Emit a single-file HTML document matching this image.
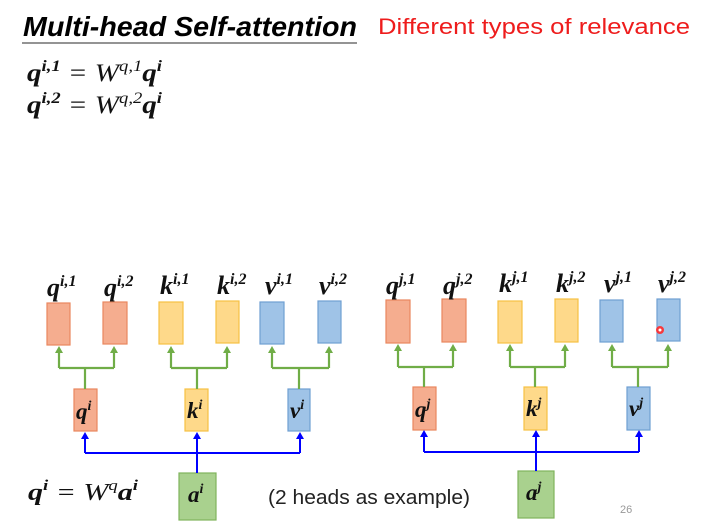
<!DOCTYPE html>
<html><head><meta charset="utf-8"><style>
html,body{margin:0;padding:0;background:#fff;}
svg{display:block;}
.m{font-family:"Liberation Serif",serif;font-weight:bold;font-style:italic;fill:#111;}
.s{font-family:"Liberation Sans",sans-serif;}
</style></head><body>
<svg width="707" height="527" viewBox="0 0 707 527" xmlns="http://www.w3.org/2000/svg">
<rect width="707" height="527" fill="#fff"/>
<text x="23" y="36" class="s" font-size="28" font-weight="bold" font-style="italic" fill="#000" textLength="334" lengthAdjust="spacingAndGlyphs">Multi-head Self-attention</text>
<line x1="22" y1="43" x2="357" y2="43" stroke="#555" stroke-width="1.2"/>
<text x="378" y="34" class="s" font-size="22" fill="#ee1c1c" textLength="312" lengthAdjust="spacingAndGlyphs">Different types of relevance</text>
<text x="27" y="81" class="m" font-size="25" textLength="135" lengthAdjust="spacingAndGlyphs">q<tspan font-size="16" dy="-10">i,1</tspan><tspan dy="10" font-weight="normal"> = W</tspan><tspan font-size="16" dy="-10" font-weight="normal">q,1</tspan><tspan dy="10">q</tspan><tspan font-size="16" dy="-10">i</tspan></text>
<text x="27" y="113" class="m" font-size="25" textLength="135" lengthAdjust="spacingAndGlyphs">q<tspan font-size="16" dy="-10">i,2</tspan><tspan dy="10" font-weight="normal"> = W</tspan><tspan font-size="16" dy="-10" font-weight="normal">q,2</tspan><tspan dy="10">q</tspan><tspan font-size="16" dy="-10">i</tspan></text>
<text x="28" y="500" class="m" font-size="24" textLength="110" lengthAdjust="spacingAndGlyphs">q<tspan font-size="15" dy="-10">i</tspan><tspan dy="10" font-weight="normal"> = W</tspan><tspan font-size="15" dy="-10" font-weight="normal">q</tspan><tspan dy="10">a</tspan><tspan font-size="15" dy="-10">i</tspan></text>
<text x="268" y="504" class="s" font-size="20" fill="#222" textLength="202" lengthAdjust="spacingAndGlyphs">(2 heads as example)</text>
<text x="620" y="513" class="s" font-size="11" fill="#999">26</text>

<g stroke-width="1.2">
<rect x="47" y="303" width="23" height="42" fill="#f5ad8f" stroke="#e9875e"/>
<rect x="103" y="302" width="24" height="42" fill="#f5ad8f" stroke="#e9875e"/>
<rect x="159" y="302" width="24" height="42" fill="#fed98a" stroke="#f6c143"/>
<rect x="216" y="301" width="23" height="42" fill="#fed98a" stroke="#f6c143"/>
<rect x="260" y="302" width="24" height="42" fill="#9fc3e7" stroke="#6f9fd2"/>
<rect x="318" y="301" width="23" height="42" fill="#9fc3e7" stroke="#6f9fd2"/>
<rect x="74" y="389" width="23" height="42" fill="#f5ad8f" stroke="#e9875e"/>
<rect x="185" y="389" width="23" height="42" fill="#fed98a" stroke="#f6c143"/>
<rect x="288" y="389" width="22" height="42" fill="#9fc3e7" stroke="#6f9fd2"/>
<rect x="179" y="473" width="37" height="47" fill="#a9d18e" stroke="#80b35c"/>
<rect x="386" y="300" width="24" height="43" fill="#f5ad8f" stroke="#e9875e"/>
<rect x="442" y="299" width="24" height="43" fill="#f5ad8f" stroke="#e9875e"/>
<rect x="498" y="301" width="24" height="42" fill="#fed98a" stroke="#f6c143"/>
<rect x="555" y="299" width="23" height="43" fill="#fed98a" stroke="#f6c143"/>
<rect x="600" y="300" width="23" height="42" fill="#9fc3e7" stroke="#6f9fd2"/>
<rect x="657" y="299" width="23" height="42" fill="#9fc3e7" stroke="#6f9fd2"/>
<rect x="413" y="387" width="23" height="43" fill="#f5ad8f" stroke="#e9875e"/>
<rect x="524" y="387" width="23" height="43" fill="#fed98a" stroke="#f6c143"/>
<rect x="627" y="387" width="23" height="43" fill="#9fc3e7" stroke="#6f9fd2"/>
<rect x="518" y="471" width="36" height="47" fill="#a9d18e" stroke="#80b35c"/>
</g>

<g stroke="#70ad47" stroke-width="2.2" fill="none">
<path d="M85,389 V368 M59,368 H114 M59,368 V352 M114,368 V352" />
<path d="M197,389 V368 M171,368 H227 M171,368 V352 M227,368 V352"/>
<path d="M299,389 V368 M272,368 H329 M272,368 V352 M329,368 V352"/>
<path d="M424,387 V367 M398,367 H453 M398,367 V350 M453,367 V350"/>
<path d="M535,387 V367 M510,367 H565 M510,367 V350 M565,367 V350"/>
<path d="M638,387 V367 M612,367 H668 M612,367 V350 M668,367 V350"/>
</g>
<g fill="#70ad47">
<path d="M59,346 l-4,7 h8z M114,346 l-4,7 h8z M171,346 l-4,7 h8z M227,346 l-4,7 h8z M272,346 l-4,7 h8z M329,346 l-4,7 h8z"/>
<path d="M398,344 l-4,7 h8z M453,344 l-4,7 h8z M510,344 l-4,7 h8z M565,344 l-4,7 h8z M612,344 l-4,7 h8z M668,344 l-4,7 h8z"/>
</g>
<g stroke="#0000ff" stroke-width="2" fill="none">
<path d="M197,473 V437 M85,453 H300 M85,453 V437 M300,453 V437"/>
<path d="M536,471 V435 M424,452 H639 M424,452 V435 M639,452 V435"/>
</g>
<g fill="#0000ff">
<path d="M85,432 l-4,7 h8z M197,432 l-4,7 h8z M300,432 l-4,7 h8z"/>
<path d="M424,430 l-4,7 h8z M536,430 l-4,7 h8z M639,430 l-4,7 h8z"/>
</g>

<g class="m" font-size="26">
<text x="47" y="296">q<tspan font-size="16" dy="-10">i,1</tspan></text>
<text x="104" y="296">q<tspan font-size="16" dy="-10">i,2</tspan></text>
<text x="160" y="294">k<tspan font-size="16" dy="-10">i,1</tspan></text>
<text x="217" y="294">k<tspan font-size="16" dy="-10">i,2</tspan></text>
<text x="265" y="294">v<tspan font-size="16" dy="-10">i,1</tspan></text>
<text x="319" y="294">v<tspan font-size="16" dy="-10">i,2</tspan></text>
<text x="386" y="294">q<tspan font-size="16" dy="-10">j,1</tspan></text>
<text x="443" y="294">q<tspan font-size="16" dy="-10">j,2</tspan></text>
<text x="499" y="292">k<tspan font-size="16" dy="-10">j,1</tspan></text>
<text x="556" y="292">k<tspan font-size="16" dy="-10">j,2</tspan></text>
<text x="604" y="292">v<tspan font-size="16" dy="-10">j,1</tspan></text>
<text x="658" y="292">v<tspan font-size="16" dy="-10">j,2</tspan></text>
</g>
<g class="m" font-size="23">
<text x="76" y="419">q<tspan font-size="14" dy="-9">i</tspan></text>
<text x="187" y="418">k<tspan font-size="14" dy="-9">i</tspan></text>
<text x="290" y="418">v<tspan font-size="14" dy="-9">i</tspan></text>
<text x="415" y="417">q<tspan font-size="14" dy="-9">j</tspan></text>
<text x="526" y="416">k<tspan font-size="14" dy="-9">j</tspan></text>
<text x="629" y="416">v<tspan font-size="14" dy="-9">j</tspan></text>
<text x="188" y="502">a<tspan font-size="14" dy="-9">i</tspan></text>
<text x="526" y="500">a<tspan font-size="14" dy="-9">j</tspan></text>
</g>
<circle cx="660" cy="330" r="4" fill="#ff2a2a" opacity="0.9"/>
<circle cx="660" cy="330" r="1.5" fill="#fff"/>
</svg>
</body></html>
